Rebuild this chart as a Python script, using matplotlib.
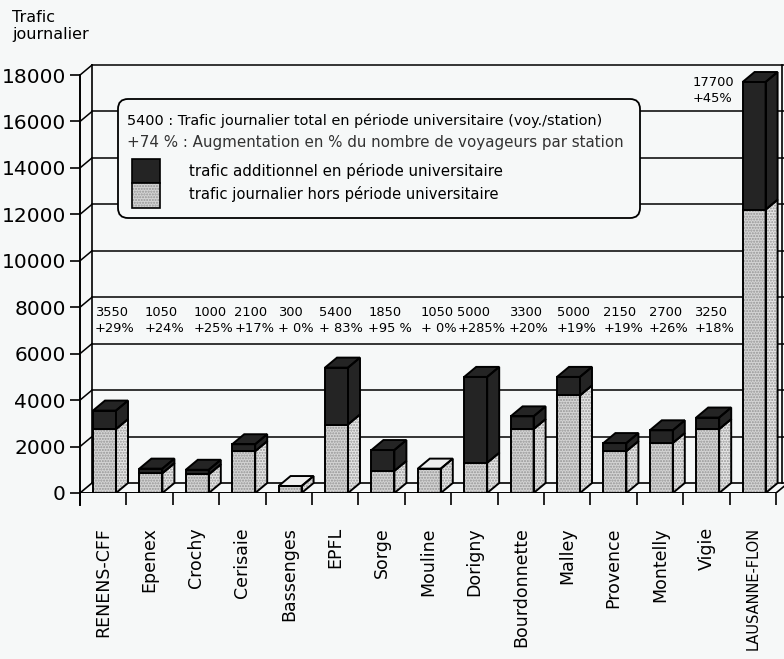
import numpy as np
import matplotlib.pyplot as plt
from matplotlib.patches import Polygon, Rectangle, FancyBboxPatch

# data
stations = ['RENENS-CFF', 'Epenex', 'Crochy', 'Cerisaie', 'Bassenges', 'EPFL', 'Sorge',
            'Mouline', 'Dorigny', 'Bourdonnette', 'Malley', 'Provence', 'Montelly', 'Vigie',
            'LAUSANNE-FLON']
total = [3550, 1050, 1000, 2100, 300, 5400, 1850, 1050, 5000, 3300, 5000, 2150, 2700, 3250, 17700]
hors_periode = [2750, 850, 800, 1800, 300, 2950, 950, 1050, 1300, 2750, 4200, 1800, 2150, 2750, 12200]
hausse = ['+29%', '+24%', '+25%', '+17%', '+ 0%', '+ 83%', '+95 %', '+ 0%', '+285%', '+20%',
          '+19%', '+19%', '+26%', '+18%', '+45%']
y_ticks = [0, 2000, 4000, 6000, 8000, 10000, 12000, 14000, 16000, 18000]

# where each value label starts inside its column (px from column left edge)
label_nudge = [15, 18, 21, 15, 12, 7, 10, 16, 6, 11, 13, 13, 12, 11]

# figure geometry (pixels)
W, H = 784, 659
PX_CAT = 46.4          # px per station
PX_VAL = 0.02322       # px per voyageur
DX = 12 / PX_CAT       # depth of the fake 3d, x
DY = 10 / PX_VAL       # depth of the fake 3d, y
BAR_X = 13 / PX_CAT
BAR_W = 23 / PX_CAT

BG = '#f6f8f8'
LIGHT_FRONT = '#d4d4d4'
LIGHT_SIDE = '#e6e6e6'
LIGHT_TOP = '#efefef'
DARK = '#242424'
LW = 1.4

plt.rcParams['font.family'] = ['DejaVu Sans']

fig = plt.figure(figsize=(W / 100, H / 100), dpi=100, facecolor=BG)
ax = fig.add_axes([80 / W, (H - 493) / H, 704 / W, (493 - 55) / H])
ax.set_facecolor(BG)
xmax = 704 / PX_CAT
ax.set_xlim(0, xmax)
ax.set_ylim(0, 438 / PX_VAL)


def face(pts, color, stipple=False, z=3):
    if stipple:
        ax.add_patch(Polygon(pts, closed=True, facecolor=color, edgecolor='#959595',
                             hatch='......', linewidth=0, zorder=z))
    else:
        ax.add_patch(Polygon(pts, closed=True, facecolor=color, linewidth=0, zorder=z))
    ax.add_patch(Polygon(pts, closed=True, fill=False, edgecolor='black', linewidth=LW,
                         joinstyle='miter', zorder=z + 0.1))


# back wall, floor and gridlines
n = len(stations)
for v in y_ticks[1:]:
    ax.plot([0, DX], [v, v + DY], color='black', lw=1.1, zorder=1)
    ax.plot([DX, xmax], [v + DY, v + DY], color='black', lw=1.1, zorder=1)
ax.plot([DX, DX], [DY, y_ticks[-1] + DY], color='black', lw=1.2, zorder=1)
ax.plot([0, DX], [0, DY], color='black', lw=1.2, zorder=1)
ax.plot([DX, xmax], [DY, DY], color='black', lw=1.2, zorder=1)
ax.plot([0, n], [0, 0], color='black', lw=1.4, zorder=1)
ax.plot([n, n + DX], [0, DY], color='black', lw=1.2, zorder=1)
ax.plot([15.14, 15.14], [DY, y_ticks[-1] + DY], color='black', lw=1.2, zorder=1)
ax.plot([0, 0], [0, -12 / PX_VAL], color='black', lw=LW, clip_on=False, zorder=1)

# bars
for i in range(n):
    x0 = i + BAR_X
    x1 = x0 + BAR_W
    b = hors_periode[i]
    t = total[i]
    face([(x0, 0), (x1, 0), (x1, b), (x0, b)], LIGHT_FRONT, stipple=True)
    face([(x1, 0), (x1 + DX, DY), (x1 + DX, b + DY), (x1, b)], LIGHT_SIDE, stipple=True)
    if t > b:
        face([(x0, b), (x1, b), (x1, t), (x0, t)], DARK)
        face([(x1, b), (x1 + DX, b + DY), (x1 + DX, t + DY), (x1, t)], DARK)
        face([(x0, t), (x0 + DX, t + DY), (x1 + DX, t + DY), (x1, t)], DARK)
    else:
        face([(x0, t), (x0 + DX, t + DY), (x1 + DX, t + DY), (x1, t)], LIGHT_TOP)

# labels above the bars
for i in range(n):
    if i < n - 1:
        x, y1, y2 = i + label_nudge[i] / PX_CAT, (493 - 312) / PX_VAL, (493 - 328) / PX_VAL
    else:
        x, y1, y2 = (693 - 80) / PX_CAT, (493 - 83) / PX_VAL, (493 - 99) / PX_VAL
    ax.text(x, y1, str(total[i]), ha='left', va='center', fontsize=9.4, zorder=4)
    ax.text(x, y2, hausse[i], ha='left', va='center', fontsize=9.4, zorder=4)

# axes
for s in ['top', 'right', 'bottom']:
    ax.spines[s].set_visible(False)
ax.spines['left'].set_bounds(0, y_ticks[-1])
ax.spines['left'].set_linewidth(LW)
ax.set_yticks(y_ticks)
ax.tick_params(axis='y', length=7.2, width=1.2, pad=3.0, labelsize=14.5)
ax.set_xticks(np.arange(n) + 0.5)
ax.set_xticklabels(stations, rotation=90, fontsize=12.5)
ax.get_xticklabels()[-1].set_fontsize(10.5)
ax.set_xticks(np.arange(n + 1), minor=True)
ax.tick_params(axis='x', which='major', length=0, pad=24.5)
ax.tick_params(axis='x', which='minor', length=8.6, width=1.2)

fig.text(12 / W, 1 - 10 / H, 'Trafic\njournalier', ha='left', va='top', fontsize=11.5,
         linespacing=1.15)

# legend box, drawn in pixel coordinates
ov = fig.add_axes([0, 0, 1, 1])
ov.set_xlim(0, W)
ov.set_ylim(H, 0)
ov.axis('off')
ov.add_patch(FancyBboxPatch((118, 99), 522, 119, boxstyle='round,pad=0,rounding_size=10',
                            facecolor=BG, edgecolor='black', linewidth=1.3))
ov.text(127, 121, '5400 : Trafic journalier total en période universitaire (voy./station)',
        ha='left', va='center', fontsize=10.4)
ov.text(127, 142, '+74 % : Augmentation en % du nombre de voyageurs par station',
        ha='left', va='center', fontsize=10.9, color='#333333')
ov.add_patch(Rectangle((132, 159), 28, 24, facecolor=DARK, edgecolor='black', linewidth=1.2))
ov.add_patch(Rectangle((132, 183), 28, 25, facecolor=LIGHT_FRONT, edgecolor='#959595',
                       hatch='......', linewidth=0))
ov.add_patch(Rectangle((132, 183), 28, 25, fill=False, edgecolor='black', linewidth=1.2))
ov.text(189, 171, 'trafic additionnel en période universitaire', ha='left', va='center',
        fontsize=10.8)
ov.text(189, 194, 'trafic journalier hors période universitaire', ha='left', va='center',
        fontsize=10.6)

fig.savefig('out.png', dpi=100, facecolor=BG)
